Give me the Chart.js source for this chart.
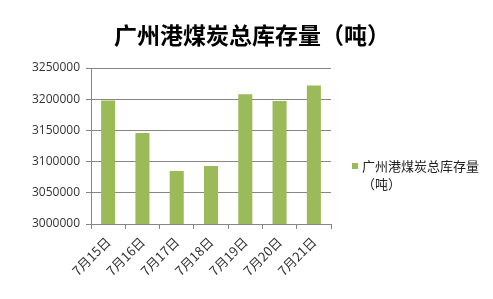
<!DOCTYPE html>
<html>
<head>
<meta charset="utf-8">
<script src="https://cdn.jsdelivr.net/npm/chart.js@4"></script>
<style>
  html, body { margin: 0; padding: 0; background: #fff; }
  #wrap { width: 493px; height: 299px; position: relative; }
</style>
</head>
<body>
<div id="wrap"><canvas id="stockChart"></canvas></div>
<script>
const titleText = '广州港煤炭总库存量（吨）';
const seriesName = '广州港煤炭总库存量（吨）';
const dates = ['7月15日', '7月16日', '7月17日', '7月18日', '7月19日', '7月20日', '7月21日'];
const stock = [3198000, 3146000, 3085000, 3093000, 3208000, 3197000, 3222000];
const yTicks = [3000000, 3050000, 3100000, 3150000, 3200000, 3250000];

const barColor = '#9bbb59';
const axisColor = '#868686';

//..title over the whole picture and legend on the right, wrapped in two lines
const sideText = {
    id: 'sideText',
    afterDraw(chart) {
        const ctx = chart.ctx;
        const label = chart.data.datasets[0].label;
        const lines = [label.slice(0, 9), label.slice(9)];
        ctx.save();
        ctx.fillStyle = '#000';
        ctx.font = 'bold 23px "Noto Sans CJK SC"';
        ctx.textAlign = 'center';
        ctx.textBaseline = 'middle';
        ctx.fillText(titleText, 252, 35);

        ctx.textAlign = 'left';
        ctx.fillStyle = barColor;
        ctx.fillRect(352, 163, 6, 6);
        ctx.fillStyle = '#222';
        ctx.font = '13px "Noto Sans CJK SC"';
        ctx.fillText(lines[0], 362, 166);
        ctx.fillText(lines[1], 362, 184);
        ctx.restore();
    }
};

new Chart(document.getElementById('stockChart'), {
    type: 'bar',
    data: {
        labels: dates,
        datasets: [{
            label: seriesName,
            data: stock,
            backgroundColor: barColor,
            categoryPercentage: 1,
            barPercentage: 0.41
        }]
    },
    options: {
        responsive: true,
        maintainAspectRatio: false,
        animation: false,
        layout: { padding: { left: 0, right: 162, top: 68, bottom: 0 } },
        plugins: {
            legend: { display: false },
            tooltip: { enabled: false },
            title: { display: false }
        },
        scales: {
            x: {
                grid: {
                    drawOnChartArea: false,
                    color: axisColor,
                    tickLength: 5,
                    offset: true
                },
                border: { color: axisColor },
                ticks: {
                    color: '#333',
                    minRotation: 45,
                    maxRotation: 45,
                    padding: 5,
                    font: { family: '"Noto Sans CJK SC"', size: 13 }
                },
                afterFit: s => { s.height = 75; }
            },
            y: {
                min: yTicks[0],
                max: yTicks[yTicks.length - 1],
                afterBuildTicks: s => { s.ticks = yTicks.map(v => ({ value: v })); },
                grid: { color: axisColor, tickLength: 5 },
                border: { color: axisColor },
                ticks: {
                    color: '#333',
                    padding: 6,
                    font: { family: '"Open Sans"', size: 12 },
                    callback: v => String(v)
                },
                afterFit: s => { s.width = 91; }
            }
        }
    },
    plugins: [sideText]
});
</script>
</body>
</html>
